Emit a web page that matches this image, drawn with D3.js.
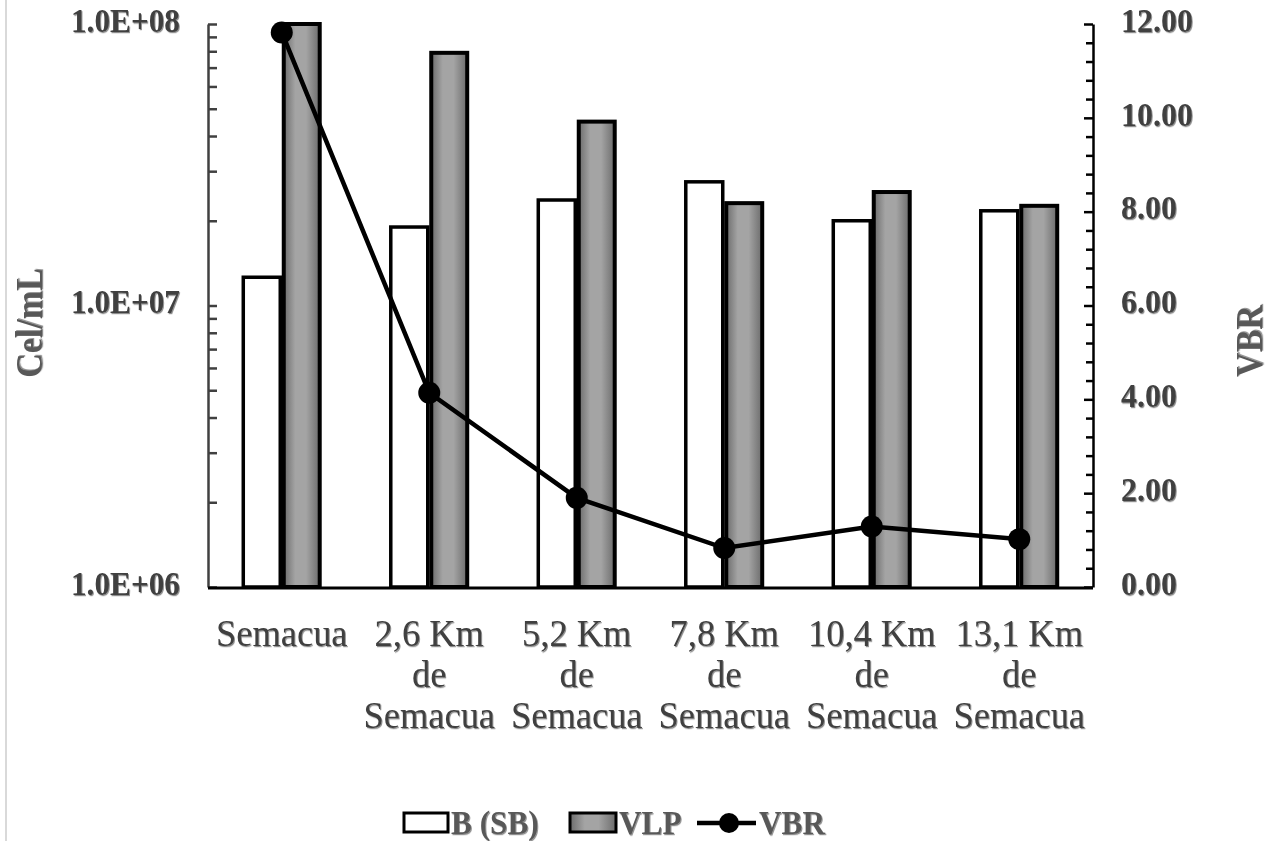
<!DOCTYPE html>
<html>
<head>
<meta charset="utf-8">
<script src="https://cdnjs.cloudflare.com/ajax/libs/d3/7.8.5/d3.min.js"></script>
<style>
  body { margin: 0; background: #fff; }
  svg { display: block; }
  text { font-family: "Liberation Serif", "Times New Roman", serif; }
</style>
</head>
<body>
<div id="chart"></div>
<script>
const categories = [
  ['Semacua'],
  ['2,6 Km', 'de', 'Semacua'],
  ['5,2 Km', 'de', 'Semacua'],
  ['7,8 Km', 'de', 'Semacua'],
  ['10,4 Km', 'de', 'Semacua'],
  ['13,1 Km', 'de', 'Semacua']
];
const bacteria = [1.26e7, 1.9e7, 2.37e7, 2.75e7, 2.0e7, 2.17e7];
const vlp = [1.49e8, 7.9e7, 4.5e7, 2.31e7, 2.53e7, 2.26e7];
const vbr = [11.82, 4.14, 1.90, 0.83, 1.29, 1.02];
const leftTicks = [1e6, 1e7, 1e8];
const leftLabels = ['1.0E+06', '1.0E+07', '1.0E+08'];
const rightTicks = [0, 2, 4, 6, 8, 10, 12];

const W = 1271, H = 841;
const plot = {left: 208, right: 1093, top: 24, bottom: 587};
const SX = 0.92; // horizontal squeeze of the type

const svg = d3.select('#chart').append('svg')
  .attr('width', W)
  .attr('height', H);

const defs = svg.append('defs');
const grad = defs.append('linearGradient').attr('id', 'greyFill')
  .attr('x1', '0%').attr('x2', '100%').attr('y1', '0%').attr('y2', '0%');
grad.append('stop').attr('offset', '0%').attr('stop-color', '#6c6c6c');
grad.append('stop').attr('offset', '32%').attr('stop-color', '#a4a4a4');
grad.append('stop').attr('offset', '62%').attr('stop-color', '#a4a4a4');
grad.append('stop').attr('offset', '100%').attr('stop-color', '#6c6c6c');

const shadow = defs.append('filter').attr('id', 'shadow')
  .attr('x', '-10%').attr('y', '-10%').attr('width', '120%').attr('height', '130%');
shadow.append('feDropShadow')
  .attr('dx', 1).attr('dy', 1.2).attr('stdDeviation', 0.7)
  .attr('flood-color', '#000').attr('flood-opacity', 0.45);

defs.append('clipPath').attr('id', 'plotClip')
  .append('rect')
  .attr('x', plot.left).attr('y', plot.top - 3)
  .attr('width', plot.right - plot.left).attr('height', plot.bottom - plot.top + 3);

// page border on the left
svg.append('line')
  .attr('x1', 6).attr('x2', 6).attr('y1', 0).attr('y2', H)
  .attr('stroke', '#d9d9d9').attr('stroke-width', 2);

const x = d3.scaleBand()
  .domain(d3.range(categories.length))
  .range([plot.left, plot.right])
  .paddingInner(0.458)
  .paddingOuter(0.229);
const x1 = d3.scaleBand().domain([0, 1]).range([0, x.bandwidth()]);

const yLeft = d3.scaleLog().domain([1e6, 1e8]).range([plot.bottom, plot.top]);
const yRight = d3.scaleLinear().domain([0, 12]).range([plot.bottom, plot.top]);

function label(g, txt, tx, ty, opts) {
  const sx = opts.sx || SX;
  const t = g.append('text')
    .attr('transform', `translate(${tx},${ty})` + (opts.rotate ? ' rotate(-90)' : '') + ` scale(${sx},1)`)
    .attr('text-anchor', opts.anchor || 'middle')
    .attr('dominant-baseline', opts.baseline || 'auto')
    .attr('font-size', opts.size)
    .attr('font-weight', opts.bold ? 'bold' : 'normal')
    .attr('fill', opts.color || '#404040')
    .attr('filter', 'url(#shadow)')
    .text(txt);
  return t;
}

// bars
const bars = svg.append('g').attr('clip-path', 'url(#plotClip)');
bars.selectAll('rect.b')
  .data(bacteria)
  .enter().append('rect')
  .attr('class', 'b')
  .attr('x', (d, i) => x(i) + x1(0) + 1.5)
  .attr('width', x1.bandwidth() - 3)
  .attr('y', d => yLeft(d))
  .attr('height', d => plot.bottom - yLeft(d))
  .attr('fill', '#fff')
  .attr('stroke', '#000')
  .attr('stroke-width', 3.5);

bars.selectAll('rect.v')
  .data(vlp)
  .enter().append('rect')
  .attr('class', 'v')
  .attr('x', (d, i) => x(i) + x1(1) + 2)
  .attr('width', x1.bandwidth() - 4)
  .attr('y', d => Math.max(yLeft(d), plot.top))
  .attr('height', d => plot.bottom - Math.max(yLeft(d), plot.top))
  .attr('fill', 'url(#greyFill)')
  .attr('stroke', '#000')
  .attr('stroke-width', 4);

// left axis
const leftMinor = [];
for (let e = 6; e < 8; e++) {
  for (let k = 1; k < 10; k++) leftMinor.push(k * Math.pow(10, e));
}
leftMinor.push(1e8);
const axL = svg.append('g')
  .attr('transform', `translate(${plot.left},0)`)
  .call(d3.axisLeft(yLeft).tickValues(leftMinor).tickSize(-9).tickSizeOuter(0).tickFormat(''));
axL.select('.domain').attr('stroke', '#404040').attr('stroke-width', 2.5);
axL.selectAll('.tick line').attr('stroke', '#404040').attr('stroke-width', 2.5);

leftTicks.forEach((v, i) => {
  label(svg, leftLabels[i], 180, yLeft(v), {anchor: 'end', baseline: 'middle', size: 34, bold: true});
});

// right axis
const rightMinor = d3.range(0, 31).map(i => i * 0.4);
const axR = svg.append('g')
  .attr('transform', `translate(${plot.right},0)`)
  .call(d3.axisRight(yRight).tickValues(rightMinor).tickSize(-7).tickSizeOuter(0).tickFormat(''));
axR.select('.domain').attr('stroke', '#000').attr('stroke-width', 2.5);
axR.selectAll('.tick line').attr('stroke', '#000').attr('stroke-width', 2.5)
  .attr('x2', d => (Math.abs(d % 2) < 1e-6 || Math.abs(d % 2 - 2) < 1e-6) ? -9 : -7);

rightTicks.forEach(v => {
  label(svg, v.toFixed(2), 1121, yRight(v), {anchor: 'start', baseline: 'middle', size: 34, bold: true, sx: 0.94});
});

// x axis line
svg.append('line')
  .attr('x1', plot.left).attr('x2', plot.right)
  .attr('y1', plot.bottom + 1).attr('y2', plot.bottom + 1)
  .attr('stroke', '#000').attr('stroke-width', 3);

// category labels
categories.forEach((lines, i) => {
  const cx = x(i) + x.bandwidth() / 2;
  lines.forEach((ln, j) => {
    label(svg, ln, cx, 646 + j * 41, {size: 38, color: '#3f3f3f', sx: 0.96});
  });
});

// VBR line
const line = d3.line()
  .x((d, i) => x(i) + x.bandwidth() / 2)
  .y(d => yRight(d));
svg.append('path')
  .datum(vbr)
  .attr('d', line)
  .attr('fill', 'none')
  .attr('stroke', '#000')
  .attr('stroke-width', 4.5);
svg.selectAll('circle.vbr')
  .data(vbr)
  .enter().append('circle')
  .attr('class', 'vbr')
  .attr('cx', (d, i) => x(i) + x.bandwidth() / 2)
  .attr('cy', d => yRight(d))
  .attr('r', 11)
  .attr('fill', '#000');

// axis titles
label(svg, 'Cel/mL', 42, 323, {rotate: true, size: 37, bold: true, color: '#595959'});
label(svg, 'VBR', 1262, 341, {rotate: true, size: 37, bold: true, color: '#595959'});

// legend
const lg = svg.append('g');
lg.append('rect').attr('x', 404).attr('y', 813).attr('width', 44).attr('height', 19)
  .attr('fill', '#fff').attr('stroke', '#000').attr('stroke-width', 3);
label(lg, 'B (SB)', 451, 834, {anchor: 'start', size: 34, bold: true, color: '#595959'});
lg.append('rect').attr('x', 570).attr('y', 813).attr('width', 46).attr('height', 19)
  .attr('fill', 'url(#greyFill)').attr('stroke', '#000').attr('stroke-width', 3);
label(lg, 'VLP', 619, 834, {anchor: 'start', size: 34, bold: true, color: '#595959'});
lg.append('line').attr('x1', 697).attr('x2', 756).attr('y1', 823).attr('y2', 823)
  .attr('stroke', '#000').attr('stroke-width', 4.5);
lg.append('circle').attr('cx', 729).attr('cy', 823).attr('r', 10).attr('fill', '#000');
label(lg, 'VBR', 759, 834, {anchor: 'start', size: 34, bold: true, color: '#595959'});
</script>
</body>
</html>
